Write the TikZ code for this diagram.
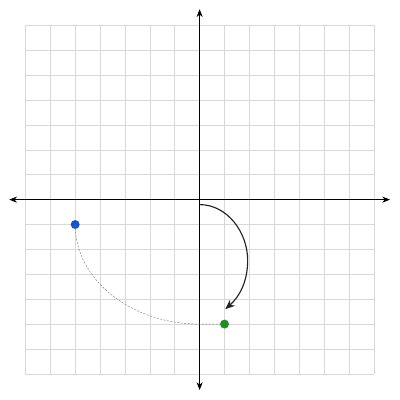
\documentclass[tikz,border=0pt]{standalone}
\usetikzlibrary{arrows.meta}
\definecolor{gridgray}{RGB}{216,216,216}
\definecolor{ptblue}{RGB}{22,82,205}
\definecolor{ptgreen}{RGB}{34,142,34}
\definecolor{darkline}{RGB}{35,35,35}
\begin{document}
\begin{tikzpicture}[x=1cm,y=1cm,
  axis/.style={line width=1pt,black,{Stealth[length=9pt,width=7pt]}-{Stealth[length=9pt,width=7pt]}},
  gridline/.style={gridgray,line width=0.7pt},
  dot/.style={circle,inner sep=0pt,minimum size=0.36cm},
  turn/.style={darkline,line width=1.3pt,-{Stealth[length=11pt,width=9pt]}},
  trace/.style={gray,line width=0.5pt,dash pattern=on 2.5pt off 1.5pt}]
\useasboundingbox (-8.02,-8.05) rectangle (8.05,8.02);
\draw[gridline] (-7,-7) grid (7,7);
\coordinate (O) at (0,0);
\coordinate (L) at (-7.65,0);
\coordinate (R) at (7.65,0);
\coordinate (B) at (0,-7.65);
\coordinate (T) at (0,7.65);
\draw[axis] (L) -- (R);
\draw[axis] (B) -- (T);
\coordinate (S) at (0,-0.2);
\coordinate (M) at (1.93,-2.44);
\coordinate (E) at (1.03,-4.4);
\draw[turn] (S) .. controls (1.1,-0.2) and (1.93,-1.3) .. (M) .. controls (1.93,-3.3) and (1.6,-3.9) .. (E);
\node[dot,fill=ptblue] (P) at (-5,-1) {};
\node[dot,fill=ptgreen] (Q) at (1,-5) {};
\draw[trace] (P.center) arc[start angle=180,end angle=270,x radius=5,y radius=4] -- (Q);
\end{tikzpicture}
\end{document}
